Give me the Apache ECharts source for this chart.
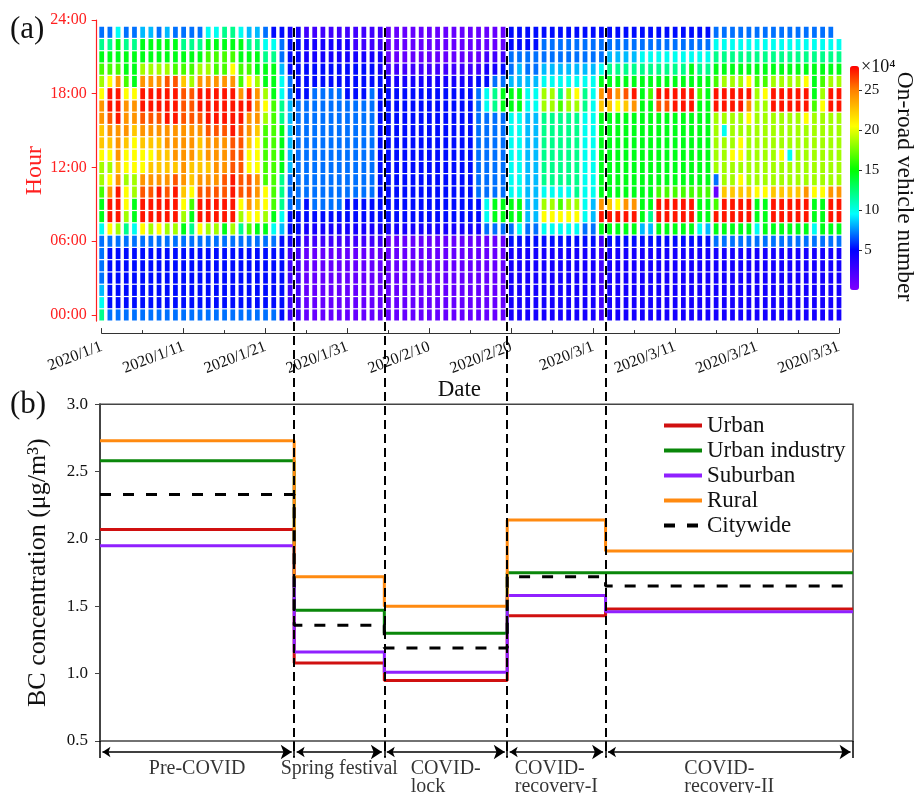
<!DOCTYPE html>
<html>
<head>
<meta charset="utf-8">
<script src="https://cdn.jsdelivr.net/npm/echarts@6.0.0/dist/echarts.min.js"></script>
<style>
html, body { margin: 0; padding: 0; background: #fff; }
#chart { width: 917px; height: 793px; }
</style>
</head>
<body>
<div id="chart"></div>
<script>
var FONT = "'Liberation Serif', 'Times New Roman', serif";

// (a) on-road vehicle number (x10^4), one string per day, hour 00 -> 23
// each char is a colour level, '-' = no data
var levelValue = {
    '0': 1.0, '1': 2.5, '2': 4.2, '3': 5.2, '4': 7.0, '5': 8.3, '6': 9.8, '7': 12,
    '8': 14.5, '9': 16.5, 'a': 18.5, 'b': 20.5, 'c': 22.5, 'd': 24.3, 'e': 26, 'f': 27.5
};
var preCovid = [
    '765444 46889a abccdd ba9874', '433333 4bffdb abcdef fb9874', '433333 4afffd cdddff fd9886',
    '433333 47abba bbcddd b98874', '433333 4688aa bbbcdd b88874', '433333 4bffed bbcdef fda885',
    '433333 4affed cbcdef fda885', '433333 4bfffd cccdef fda884', '433333 4affed ccddff fea885',
    '433333 4afffe cdddff fe9884', '433333 48abcd ddddee ec9874', '433333 4789bc cdddee ea9874',
    '433333 4bffed cccdef fda874', '433333 4affed cddeff fda986', '433333 4affed dddeff fd9986',
    '433333 48ffee dddeff fd9987', '433333 4affff eeefff fdb987', '433333 47abee eeeeff d99886',
    '433333 49bdee bbcddf fb9875', '433333 48bcdd bbbcdd da8875', '433333 48abb9 9999ab a88764',
    '433333 468999 999999 888763', '333333 356777 888877 665443', '111111 233444 555555 443332'
];
var springFest = [
    '111111 233444 444444 333332', '000000 123344 444444 333221', '000000 123444 444444 433221',
    '000000 123444 444444 433221', '000000 123444 444444 433221', '000000 123444 444444 433221',
    '000000 123344 444444 333221', '000000 123344 444444 333211', '000000 123344 444444 333211',
    '000000 123344 444444 433211', '000000 123333 333333 332211'
];
var lockdown = [
    '000000 023333 333333 321000', '000000 023333 333333 321000', '000000 023333 333333 321000',
    '000000 023333 333333 321000', '000000 023333 333333 321000', '000000 023333 333333 321000',
    '000000 023333 333333 321000', '000000 023333 333333 321000', '000000 023333 333333 321000',
    '000000 023333 333333 321000', '000000 023333 333333 321000', '000000 023344 444444 431000',
    '000000 046644 444446 632100', '000000 048844 444447 742100', '000000 048844 444448 843100'
];
var recovery1 = [
    '222222 348866 666668 854433', '222222 368866 666668 855433', '222222 345555 555556 654433',
    '222222 345555 555556 654433', '222222 36ba67 77777a a65443', '222222 36ba67 77777a a65443',
    '222222 36b967 777779 765443', '222222 36ba67 77777a a65443', '222222 36ba77 77777a b65443',
    '222222 346666 666667 765443', '222222 345566 666666 665443', '111111 18fd88 88888c d86443'
];
var recovery2 = [
    '222222 38fc88 88888c e87543', '222222 38fb88 88888b d87543', '222222 38fd88 88888c e87543',
    '222222 38fd88 88888d f87543', '222222 358888 888888 887643', '222222 357888 888888 987643',
    '222222 38ff98 88888e f87643', '222222 38ff98 88888e f87643', '222222 38ff98 88888f f87643',
    '222222 38ff98 88888f f87643', '222222 38ff98 88888f f88643', '222222 368898 888888 987643',
    '222222 358898 888888 887643', '222222 48f904 aaaaaf f98764', '222222 48ffca aaa6af fa8764',
    '222222 48ffca abaaaf fa8764', '222222 48ffcb abbaaf fa8764', '222222 48ffca aaaabd fb8764',
    '222222 4688ba aaaaaa a98764', '222222 4888ba aaaaaa b98764', '222222 48ffca aaaaaf fa8764',
    '222222 48ffca abaaaf fa8764', '222222 48ffca a6aaaf fa8764', '222222 48ffca aaaaaf fa8764',
    '222222 48ffda aaaabf fb8764', '222222 4688ba aaaaa9 888764', '222222 4888ba aaaaab a98764',
    '222222 48ffda aaaaaf fa8764', '222222 48ffda aaaaaf fa876-'
];
var hourTicks = [0, 6, 12, 18, 24];
var colorbarTicks = [5, 10, 15, 20, 25];

// (b) BC concentration per period
var periodNames = ['Pre-COVID', 'Spring festival', 'COVID-\nlock', 'COVID-\nrecovery-I', 'COVID-\nrecovery-II'];
var periodEdges = [-0.2, 23.5, 34.5, 49.5, 61.5, 91.7];   // day index from 2020/1/1
var urban         = [2.07, 1.08, 0.95, 1.43, 1.48];
var urbanIndustry = [2.58, 1.47, 1.30, 1.75, 1.75];
var suburban      = [1.95, 1.16, 1.01, 1.58, 1.46];
var rural         = [2.73, 1.72, 1.50, 2.14, 1.91];
var citywide      = [2.33, 1.36, 1.19, 1.72, 1.65];

var dayColumns = preCovid.concat(springFest, lockdown, recovery1, recovery2);
var heatData = [];
dayColumns.forEach(function (col, d) {
    col = col.replace(/ /g, '');
    for (var h = 0; h < col.length; h++) {
        var ch = col.charAt(h);
        if (ch === '-') continue;
        heatData.push([d, h, levelValue[ch]]);
    }
});

// rainbow colour ramp of the colour bar
var rampStops = [[0, [128, 0, 255]], [5, [0, 0, 255]], [9.5, [0, 255, 255]], [15, [0, 255, 0]],
    [20.5, [255, 255, 0]], [25, [255, 128, 0]], [28, [255, 0, 0]]];
function rampColor(v) {
    for (var i = 1; i < rampStops.length; i++) {
        if (v <= rampStops[i][0]) {
            var a = rampStops[i - 1], b = rampStops[i];
            var t = (v - a[0]) / (b[0] - a[0]);
            var c = [0, 1, 2].map(function (k) { return Math.round(a[1][k] + (b[1][k] - a[1][k]) * t); });
            return 'rgb(' + c.join(',') + ')';
        }
    }
    return 'rgb(255,0,0)';
}
var rampColors = [];
for (var v = 0; v <= 28; v += 0.5) rampColors.push(rampColor(v));

function stepData(vals) {
    var out = vals.map(function (val, i) { return [periodEdges[i], val]; });
    out.push([periodEdges[periodEdges.length - 1], vals[vals.length - 1]]);
    return out;
}

function lineSeries(name, vals, color, dashed) {
    return {
        name: name, type: 'line', xAxisIndex: 1, yAxisIndex: 1,
        step: 'end', symbol: 'none', data: stepData(vals),
        itemStyle: { color: color },
        lineStyle: { color: color, width: 3, type: dashed ? [11, 12] : 'solid' },
        silent: true
    };
}

var innerEdges = periodEdges.slice(1, -1);
var sepLines = innerEdges.map(function (e) { return { coords: [[e, 28], [e, 757]] }; });
var edgeTicks = periodEdges.map(function (e) { return { coords: [[e, 741], [e, 758]] }; });
var arrows = periodNames.map(function (n, i) {
    return { coords: [[periodEdges[i] + 0.3, 752], [periodEdges[i + 1] - 0.3, 752]] };
});
var periodLabels = periodNames.map(function (n, i) {
    return { name: n, value: [(periodEdges[i] + periodEdges[i + 1]) / 2, 759] };
});

var myChart = echarts.init(document.getElementById('chart'));
var option = {
    animation: false,
    textStyle: { fontFamily: FONT },
    grid: [
        { left: 101.7, width: 737.3, top: 20, height: 301.1 },
        { left: 100, width: 753, top: 404.3, height: 336.7, show: true, borderColor: '#444', borderWidth: 1.5 },
        { left: 858, width: 1, top: 66, height: 224 },
        { left: 100, width: 753, top: 0, height: 793 }
    ],
    xAxis: [
        {
            gridIndex: 0, type: 'value', min: 0, max: 90, interval: 10, position: 'bottom', offset: 12,
            axisLine: { onZero: false, lineStyle: { color: '#333', width: 1.2 } },
            axisTick: { inside: true, length: 5, lineStyle: { color: '#333' } },
            minorTick: { show: true, splitNumber: 2, length: 3, lineStyle: { color: '#333' } },
            splitLine: { show: false },
            axisLabel: {
                rotate: 21, fontSize: 16, color: '#111', margin: 13, fontFamily: FONT,
                formatter: function (val) {
                    var d = new Date(2020, 0, 1 + val);
                    return '2020/' + (d.getMonth() + 1) + '/' + d.getDate();
                }
            },
            name: 'Date', nameLocation: 'middle', nameGap: 45, nameMoveOverlap: false,
            nameTextStyle: { fontSize: 23, color: '#111', fontFamily: FONT, padding: [0, 22, 0, 0] }
        },
        { gridIndex: 1, type: 'value', min: -0.2, max: 91.7, show: false },
        { gridIndex: 2, type: 'value', show: false },
        { gridIndex: 3, type: 'value', min: -0.2, max: 91.7, show: false }
    ],
    yAxis: [
        {
            gridIndex: 0, type: 'value', min: -0.5, max: 24, offset: 5,
            axisLine: { show: true, onZero: false, lineStyle: { color: '#ff2020', width: 1.2 } },
            axisTick: { show: true, customValues: hourTicks, length: 5, lineStyle: { color: '#ff2020' } },
            axisLabel: {
                customValues: hourTicks, color: '#ff2020', fontSize: 16, margin: 10, fontFamily: FONT,
                formatter: function (val) { return (val < 10 ? '0' : '') + val + ':00'; }
            },
            splitLine: { show: false },
            name: 'Hour', nameLocation: 'middle', nameRotate: 90, nameGap: 50, nameMoveOverlap: false,
            nameTextStyle: { fontSize: 24, color: '#ff2020', fontFamily: FONT }
        },
        {
            gridIndex: 1, type: 'value', min: 0.5, max: 3, interval: 0.5,
            axisLine: { show: true, onZero: false, lineStyle: { color: '#444', width: 2 } },
            axisTick: { show: true, length: 5, lineStyle: { color: '#444' } },
            axisLabel: {
                fontSize: 17, color: '#111', margin: 12, fontFamily: FONT,
                formatter: function (val) { return val.toFixed(1); }
            },
            splitLine: { show: false },
            name: 'BC concentration (\u03bcg/m\u00b3)', nameLocation: 'middle', nameRotate: 90, nameGap: 49,
            nameMoveOverlap: false,
            nameTextStyle: { fontSize: 26, color: '#111', fontFamily: FONT }
        },
        {
            gridIndex: 2, type: 'value', min: 0, max: 28, position: 'right',
            axisLine: { show: false },
            axisTick: { show: true, customValues: colorbarTicks, length: 4, lineStyle: { color: '#333' } },
            axisLabel: { customValues: colorbarTicks, fontSize: 15, color: '#111', margin: 6, fontFamily: FONT },
            splitLine: { show: false },
            name: 'On-road vehicle number', nameLocation: 'middle', nameRotate: -90, nameGap: 34,
            nameTextStyle: { fontSize: 23.5, color: '#111', fontFamily: FONT, padding: [0, 0, 0, 17] }
        },
        { gridIndex: 3, type: 'value', min: 0, max: 793, inverse: true, show: false }
    ],
    visualMap: {
        type: 'continuous', seriesIndex: 0, dimension: 2, min: 0, max: 28,
        inRange: { color: rampColors },
        left: 850, top: 66, itemWidth: 9, itemHeight: 224, padding: 0,
        calculable: false, realtime: false
    },
    legend: {
        data: ['Urban', 'Urban industry', 'Suburban', 'Rural', 'Citywide'],
        orient: 'vertical', left: 657, top: 409, itemWidth: 38, itemHeight: 14, itemGap: 2,
        selectedMode: false,
        itemStyle: { opacity: 0, borderWidth: 0 },
        lineStyle: { width: 4 },
        textStyle: { fontSize: 23, color: '#111', fontFamily: FONT, lineHeight: 23 }
    },
    graphic: [
        { type: 'text', left: 10, top: 14, style: { text: '(a)', font: '31px ' + FONT, fill: '#111' } },
        { type: 'text', left: 10, top: 389, style: { text: '(b)', font: '31px ' + FONT, fill: '#111' } },
        { type: 'text', left: 861, top: 58, style: { text: '\u00d710\u2074', font: '18px ' + FONT, fill: '#111' } }
    ],
    series: [
        {
            type: 'custom', xAxisIndex: 0, yAxisIndex: 0, data: heatData,
            encode: { x: 0, y: 1 }, silent: true,
            renderItem: function (params, api) {
                var c = api.coord([api.value(0), api.value(1)]);
                var s = api.size([1, 1]);
                var w = s[0] * 0.58, h = s[1] - 1.2;
                return {
                    type: 'rect',
                    shape: { x: c[0] - w / 2, y: c[1] - h / 2, width: w, height: h },
                    style: { fill: api.visual('color') }
                };
            }
        },
        lineSeries('Urban', urban, '#d01010'),
        lineSeries('Urban industry', urbanIndustry, '#0a870a'),
        lineSeries('Suburban', suburban, '#9020ff'),
        lineSeries('Rural', rural, '#ff8a10'),
        lineSeries('Citywide', citywide, '#000', true),
        {
            type: 'lines', coordinateSystem: 'cartesian2d', xAxisIndex: 3, yAxisIndex: 3, z: 5,
            silent: true, data: sepLines,
            lineStyle: { color: '#000', width: 2, type: [9, 5], opacity: 1 }
        },
        {
            type: 'lines', coordinateSystem: 'cartesian2d', xAxisIndex: 3, yAxisIndex: 3, z: 5,
            silent: true, data: edgeTicks,
            lineStyle: { color: '#000', width: 1.5, opacity: 1 }
        },
        {
            type: 'lines', coordinateSystem: 'cartesian2d', xAxisIndex: 3, yAxisIndex: 3, z: 5,
            silent: true, data: arrows, symbol: ['arrow', 'arrow'], symbolSize: [8, 11],
            lineStyle: { color: '#000', width: 1.5, opacity: 1 }
        },
        {
            type: 'scatter', xAxisIndex: 3, yAxisIndex: 3, silent: true, clip: false,
            symbolSize: 1, itemStyle: { color: 'rgba(0,0,0,0)' }, data: periodLabels,
            label: {
                show: true, position: 'bottom', distance: 0, color: '#000',
                formatter: function (p) {
                    return p.name.split('\n').map(function (t) { return '{t|' + t + '}'; }).join('\n');
                },
                rich: { t: { align: 'left', fontSize: 20, lineHeight: 18, color: '#000', fontFamily: FONT } }
            }
        }
    ]
};
myChart.setOption(option);
window.onresize = myChart.resize;
</script>
</body>
</html>
